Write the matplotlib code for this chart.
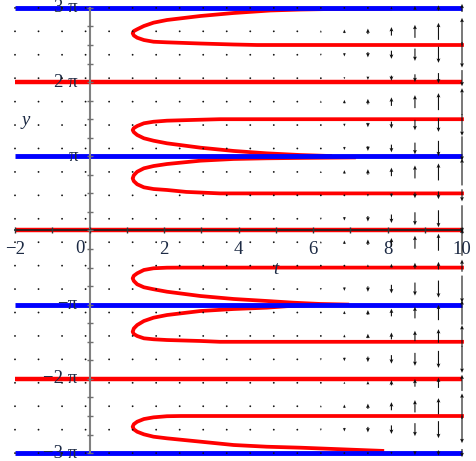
import matplotlib.pyplot as plt
import numpy as np

PI = np.pi

# direction field grid, 20 x 20 points
t_grid = np.linspace(-2, 10, 20)
y_grid = np.linspace(-3 * PI, 3 * PI, 20)

# arrow length per column in pixels
col_len_px = [1, 1, 1, 1, 1, 1, 1, 1, 1, 1, 1, 1.2, 1.5, 2.2, 3.5, 5.5, 8.5, 13, 17, 27]
# signed arrow strength per row, bottom row first
row_factor = [-0.3, -1, 0.95, 0.6, -1, 0.8, 0.9, -1, 0.45, 1,
              -1, -0.45, 1, -0.9, -0.8, 1, -0.6, -0.95, 1, 0.3]

# equilibrium lines (multiples of pi)
blue_levels = [-3, -1, 1, 3]
red_levels = [-2, 0, 2]

# solution curves: t values and y values in units of pi
c1_t = [10, 4.5, 3.86, 2.98, 2.08, 1.72, 1.46, 1.28, 1.19, 1.16, 1.19, 1.28,
        1.46, 1.72, 2.08, 2.98, 3.86, 4.85, 5.66, 6.46, 8.07]
c1_y = [2.5, 2.5, 2.507, 2.52, 2.536, 2.544, 2.567, 2.598, 2.628, 2.658, 2.688,
        2.712, 2.756, 2.801, 2.837, 2.891, 2.931, 2.965, 2.978, 2.985, 2.99]
c2_t = [10, 3.5, 2.98, 2.08, 1.72, 1.46, 1.28, 1.19, 1.16, 1.19, 1.28, 1.46,
        1.72, 2.08, 2.98, 3.87, 4.76, 5.66, 6.46]
c2_y = [1.5, 1.5, 1.493, 1.48, 1.466, 1.445, 1.408, 1.38, 1.354, 1.325, 1.287,
        1.243, 1.21, 1.175, 1.116, 1.072, 1.04, 1.017, 1.004]
c3_t = [7.1, 5.66, 4.76, 3.87, 2.98, 2.08, 1.72, 1.46, 1.28, 1.19, 1.16, 1.19,
        1.28, 1.46, 1.72, 2.08, 2.6, 3.5, 10]
c3_y = [0.985, 0.978, 0.973, 0.964, 0.941, 0.896, 0.869, 0.838, 0.792, 0.745,
        0.703, 0.665, 0.623, 0.582, 0.559, 0.546, 0.52, 0.5, 0.5]
c4_t = [10, 2.5, 2.08, 1.72, 1.46, 1.28, 1.19, 1.16, 1.19, 1.28, 1.46, 1.72,
        2.08, 2.98, 3.87, 4.76, 5.48, 6.19, 6.92]
c4_y = [-0.5, -0.5, -0.501, -0.509, -0.532, -0.577, -0.61, -0.644, -0.68,
        -0.725, -0.765, -0.792, -0.825, -0.883, -0.923, -0.95, -0.973, -0.99,
        -0.998]
c5_t = [6.0, 5.3, 4.76, 3.87, 2.98, 2.08, 1.72, 1.46, 1.28, 1.19, 1.16, 1.19,
        1.28, 1.46, 1.72, 2.08, 2.98, 3.5, 10]
c5_y = [-1.008, -1.02, -1.04, -1.058, -1.085, -1.139, -1.175, -1.22, -1.274,
        -1.32, -1.364, -1.395, -1.422, -1.453, -1.466, -1.476, -1.489, -1.5,
        -1.5]
c6_t = [10, 2.45, 2.08, 1.72, 1.46, 1.28, 1.19, 1.16, 1.19, 1.28, 1.46, 1.72,
        2.08, 2.98, 3.87, 4.76, 5.66, 7.86]
c6_y = [-2.5, -2.5, -2.503, -2.518, -2.541, -2.577, -2.61, -2.644, -2.68,
        -2.712, -2.747, -2.779, -2.801, -2.846, -2.891, -2.914, -2.927, -2.97]
curves = [(c1_t, c1_y), (c2_t, c2_y), (c3_t, c3_y),
          (c4_t, c4_y), (c5_t, c5_y), (c6_t, c6_y)]

x_labels = {-2: "\u22122", 2: "2", 4: "4", 6: "6", 8: "8", 10: "10"}
y_labels = {-3: "\u22123 \u03c0", -2: "\u22122 \u03c0", -1: "\u2212\u03c0",
            1: "\u03c0", 2: "2 \u03c0", 3: "3 \u03c0"}

plt.rcParams['font.family'] = ['Liberation Serif', 'DejaVu Serif']

fig = plt.figure(figsize=(4.76, 4.61), dpi=100)
ax = fig.add_axes([15 / 476, 7.9 / 461, 447 / 476, 445.2 / 461])
ax.set_xlim(-2, 10)
ax.set_ylim(-3 * PI, 3 * PI)

# pixel -> data conversion for arrows (vertical)
px_to_y = 6 * PI / 445.2
T, Y = np.meshgrid(t_grid, y_grid)
V = np.outer(row_factor, col_len_px) * px_to_y
U = np.zeros_like(V)

for k in red_levels:
    ax.plot([-2, 10], [k * PI, k * PI], color='#ff0000', lw=3.2,
            solid_capstyle='butt', zorder=2, clip_on=False)
for ct, cy in curves:
    ax.plot(ct, np.array(cy) * PI, color='#ff0000', lw=2.7, zorder=2,
            solid_joinstyle='round', clip_on=False)
for k in blue_levels:
    ax.plot([-2, 10], [k * PI, k * PI], color='#0000ff', lw=3.5,
            solid_capstyle='butt', zorder=2.2, clip_on=False)

q = ax.quiver(T, Y, U, V, angles='xy', scale_units='xy', scale=1,
              pivot='middle', units='dots', width=1.1, headwidth=3.5,
              headlength=4, headaxislength=3.5, minlength=1.8,
              color='#111111', zorder=3)
q.set_clip_on(False)

# axes crossing at the origin
for s in ['top', 'right']:
    ax.spines[s].set_visible(False)
ax.spines['left'].set_position(('data', 0))
ax.spines['bottom'].set_position(('data', 0))
ax.spines['left'].set_color('#808080')
ax.spines['left'].set_linewidth(1.5)
ax.spines['bottom'].set_color('#222222')
ax.spines['bottom'].set_linewidth(1.3)
ax.set_axisbelow(False)

xt = list(range(-2, 11))
ax.set_xticks(xt)
ax.set_xticklabels([x_labels.get(v, "") for v in xt])
yt = np.arange(-12, 13)
ax.set_yticks(yt * PI / 4)
ax.set_yticklabels([y_labels.get(v // 4, "") if v % 4 == 0 else "" for v in yt],
                   va='center')
ax.tick_params(axis='x', direction='inout', length=5, width=1,
               colors='#333333', labelcolor='#1c2a44', labelsize=13.5, pad=5)
ax.tick_params(axis='y', direction='inout', length=5, width=1,
               colors='#707070', labelcolor='#1c2a44', labelsize=13.5, pad=6)

ax.text(-0.13, -0.13 * PI, "0", ha='right', va='top', fontsize=13.5,
        color='#1c2a44')
ax.text(5.0, -0.53 * PI, "t", ha='center', va='center', fontsize=13.5,
        style='italic', color='#1c2a44')
ax.text(-1.72, 1.48 * PI, "y", ha='center', va='center', fontsize=13.5,
        style='italic', color='#1c2a44')

fig.savefig("out.png", dpi=100)
